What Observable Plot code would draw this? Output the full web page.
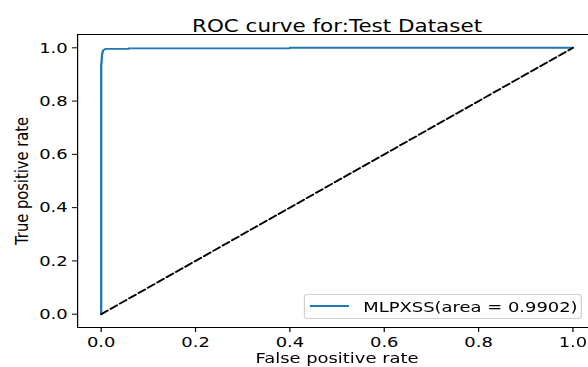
<!DOCTYPE html>
<html>
<head>
<meta charset="utf-8">
<script src="https://cdn.jsdelivr.net/npm/d3@7"></script>
<script src="https://cdn.jsdelivr.net/npm/@observablehq/plot@0.6"></script>
<style>
  html, body { margin: 0; padding: 0; background: #fff; overflow: hidden; }
  #wrap { position: relative; width: 482px; height: 367px; transform: scaleX(1.22); transform-origin: 0 0; font-family: "DejaVu Sans", sans-serif; }
  #legend { position: absolute; left: 249.2px; top: 294px; width: 228px; height: 25px; border: 1px solid #d0d0d0; border-radius: 3px; background: rgba(255,255,255,0.85); box-sizing: border-box; }
  #legend .sw { position: absolute; left: 4.2px; top: 9.5px; width: 32px; height: 2px; background: #1f77b4; }
  #legend .lb { position: absolute; left: 47.6px; top: 1.5px; font-size: 14.7px; line-height: 20px; color: #000; white-space: nowrap; }
</style>
</head>
<body>
<div id="wrap"></div>
<script>
const title = "ROC curve for:Test Dataset";
const xLabel = "False positive rate";
const yLabel = "True positive rate";
const seriesName = "MLPXSS(area = 0.9902)";
const fpr = [0, 0, 0.001, 0.002, 0.004, 0.009, 0.058, 0.058, 0.40, 0.40, 1.0];
const tpr = [0, 0.935, 0.95, 0.977, 0.99, 0.996, 0.996, 0.998, 0.998, 1.0, 1.0];
const chanceX = [0, 1];
const chanceY = [0, 1];
const xTicks = [0, 0.2, 0.4, 0.6, 0.8, 1.0];
const yTicks = [0, 0.2, 0.4, 0.6, 0.8, 1.0];

const roc = fpr.map((x, i) => ({x, y: tpr[i]}));
const chance = chanceX.map((x, i) => ({x, y: chanceY[i]}));
const fmt = d3.format(".1f");

const chart = Plot.plot({
  width: 482,
  height: 367,
  marginLeft: 63.1,
  marginRight: 0,
  marginTop: 34,
  marginBottom: 40,
  style: {fontFamily: "DejaVu Sans", fontSize: "14.7px", color: "#000", background: "#fff", overflow: "visible"},
  x: {domain: [-0.05, 1.0333]},
  y: {domain: [-0.05, 1.05]},
  marks: [
    Plot.line(roc, {x: "x", y: "y", stroke: "#1f77b4", strokeWidth: 1.9}),
    Plot.line(chance, {x: "x", y: "y", stroke: "#000", strokeWidth: 1.8, strokeDasharray: "6.5,2.8"}),
    Plot.frame({stroke: "#000", strokeWidth: 1}),
    Plot.axisX({ticks: xTicks, tickFormat: fmt, tickSize: 5, tickPadding: 4, fontSize: 14.7, label: null, stroke: "#000"}),
    Plot.axisY({ticks: yTicks, tickFormat: fmt, tickSize: 4.1, tickPadding: 4, fontSize: 14.7, label: null, stroke: "#000"}),
    Plot.text([title], {frameAnchor: "top", lineAnchor: "bottom", textAnchor: "middle", dy: -3, dx: 3.2, fontSize: 17.6, fill: "#000"}),
    Plot.text([xLabel], {frameAnchor: "bottom", lineAnchor: "bottom", textAnchor: "middle", dy: 35, dx: 3.2, fontSize: 14.7, fill: "#000"}),
    Plot.text([yLabel], {frameAnchor: "left", lineAnchor: "middle", textAnchor: "middle", rotate: -90, dx: -45.5, fontSize: 14.7, fill: "#000"})
  ]
});
const wrap = document.getElementById("wrap");
wrap.appendChild(chart);
const legend = document.createElement("div");
legend.id = "legend";
legend.innerHTML = '<div class="sw"></div><div class="lb"></div>';
legend.querySelector(".lb").textContent = seriesName;
wrap.appendChild(legend);
</script>
</body>
</html>
